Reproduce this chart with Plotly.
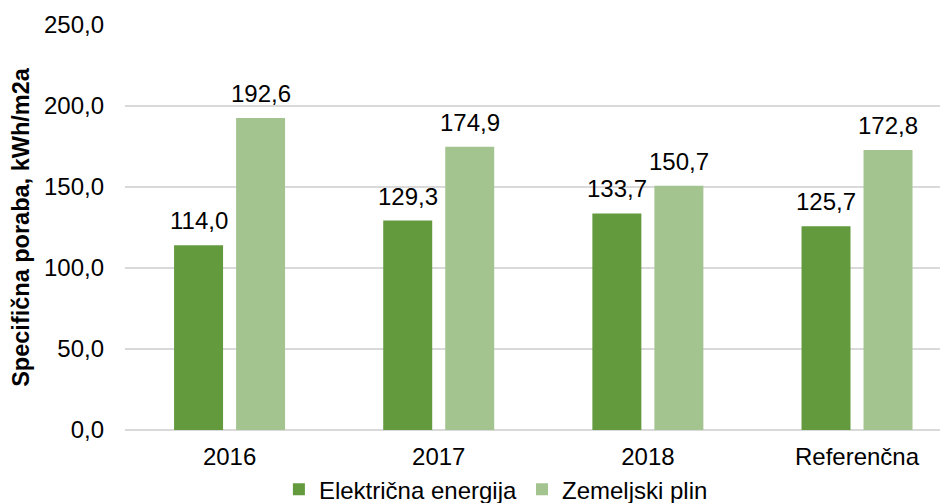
import plotly.graph_objects as go

categories = ["2016", "2017", "2018", "Referenčna"]
elektricna = [114.0, 129.3, 133.7, 125.7]
plin = [192.6, 174.9, 150.7, 172.8]
series_names = ["Električna energija", "Zemeljski plin"]
y_title = "Specifična poraba, kWh/m2a"

FONT = "Liberation Sans, Arial, sans-serif"
C_DARK = "#639A3E"
C_LIGHT = "#A3C48F"

def fmt(v):
    return f"{v:.1f}".replace(".", ",")

fig = go.Figure()
fig.add_trace(go.Bar(x=categories, y=elektricna, name=series_names[0],
                     marker=dict(color=C_DARK, line=dict(width=0))))
fig.add_trace(go.Bar(x=categories, y=plin, name=series_names[1],
                     marker=dict(color=C_LIGHT, line=dict(width=0))))

annotations = []
for vals, shift in ((elektricna, -31), (plin, 31)):
    for i, v in enumerate(vals):
        annotations.append(dict(x=i, y=v, xref="x", yref="y", text=fmt(v), showarrow=False,
                                xshift=shift, yshift=9, yanchor="bottom",
                                font=dict(family=FONT, size=24, color="#000000")))

fig.update_layout(
    width=940, height=495,
    margin=dict(l=117, r=0, t=17, b=73, autoexpand=False),
    paper_bgcolor="white", plot_bgcolor="white",
    barmode="group", bargap=0.407, bargroupgap=0.21,
    separators=",.",
    font=dict(family=FONT, size=24, color="#000000"),
    xaxis=dict(type="category", range=[-0.5, 3.435], showgrid=False, showline=False,
               zeroline=False, automargin=False,
               ticks="", tickfont=dict(size=24), ticklabelstandoff=10),
    yaxis=dict(range=[0, 250], dtick=50, tickformat=".1f", showgrid=True, automargin=False,
               gridcolor="#D9D9D9", gridwidth=1.5, zeroline=True, zerolinecolor="#D9D9D9",
               zerolinewidth=1.5, showline=False, ticks="", ticklabelstandoff=20,
               tickfont=dict(size=24),
               title=dict(text="<b>" + y_title + "</b>", font=dict(size=23.5), standoff=8)),
    legend=dict(orientation="h", x=0.187, xanchor="left", y=-0.092, yanchor="top",
                font=dict(size=24), itemwidth=30, tracegroupgap=0),
    annotations=annotations,
)

fig.write_html("out.html")
